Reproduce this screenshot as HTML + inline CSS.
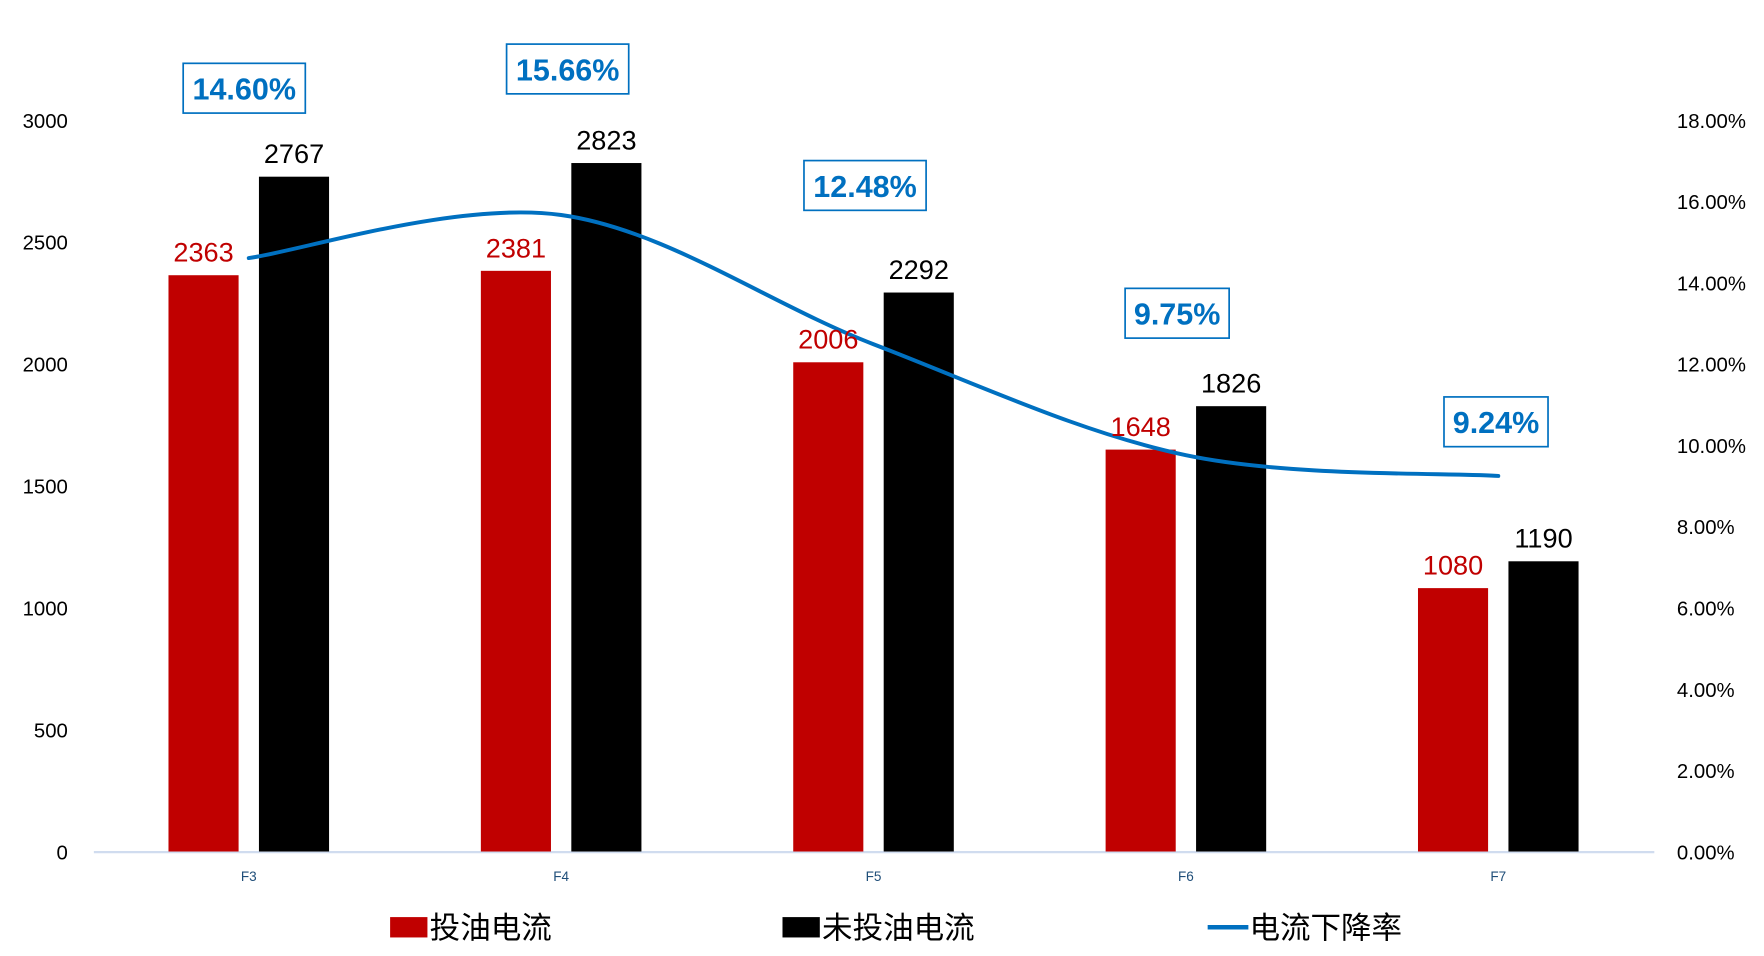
<!DOCTYPE html>
<html><head><meta charset="utf-8"><style>
html,body{margin:0;padding:0;background:#fff;}
svg{display:block;font-family:"Liberation Sans","Noto Sans CJK SC",sans-serif;}
</style></head><body>
<svg id="chart" width="1764" height="956" viewBox="0 0 1560 845.4" preserveAspectRatio="none" xmlns="http://www.w3.org/2000/svg">
<g id="axes"></g><g id="bars"></g><g id="line"></g><g id="labels"></g>
<g id="legend">
  <rect x="345" y="811" width="33" height="18" fill="#c00000"/>
  <text x="380" y="830" font-size="27" fill="#000">投油电流</text>
  <rect x="692" y="811" width="33" height="18" fill="#000"/>
  <text x="727" y="830" font-size="27" fill="#000">未投油电流</text>
  <line x1="1068" y1="820" x2="1104" y2="820" stroke="#0070c0" stroke-width="4"/>
  <text x="1105" y="830" font-size="27" fill="#000">电流下降率</text>
</g>
</svg>
<script>
const categories = ["F3","F4","F5","F6","F7"];
const oilValues = [2363,2381,2006,1648,1080];
const noOilValues = [2767,2823,2292,1826,1190];
const rateValues = [14.60,15.66,12.48,9.75,9.24];
const leftTicks = [0,500,1000,1500,2000,2500,3000];
const rightTicks = [0,2,4,6,8,10,12,14,16,18];

const NS="http://www.w3.org/2000/svg";
const Y0=753, Y1=106, X0=83, X1=1463;
const yL=v=>Y0-(v/3000)*(Y0-Y1);
const yR=v=>Y0-(v/18)*(Y0-Y1);
const xC=i=>220+i*276.25;
function mk(tag,attrs,parent,text){const e=document.createElementNS(NS,tag);for(const k in attrs)e.setAttribute(k,attrs[k]);if(text!==undefined)e.textContent=text;parent.appendChild(e);return e;}
const axes=document.getElementById('axes'),bars=document.getElementById('bars'),line=document.getElementById('line'),labels=document.getElementById('labels');

let e=mk('line',{x1:X0,y1:Y0+0.5,x2:X1,y2:Y0+0.5,stroke:'#d0dcef','stroke-width':2},axes);


leftTicks.forEach(t=>{
  const el=mk('text',{x:60,y:yL(t)+7,'font-size':18,'text-anchor':'end',fill:'#000'},axes,String(t));
  
  
});
rightTicks.forEach(t=>{
  const el=mk('text',{x:1483,y:yR(t)+7,'font-size':18,fill:'#000'},axes,t.toFixed(2)+'%');
  
  
});
categories.forEach((c,i)=>{
  const el=mk('text',{x:xC(i),y:779,'font-size':12,'text-anchor':'middle',fill:'#1f4e79'},axes,c);
  
  
});

categories.forEach((c,i)=>{
  const xr=xC(i)-71, xb=xC(i)+9;
  const r=mk('rect',{x:xr,y:yL(oilValues[i]),width:62,height:Y0-yL(oilValues[i]),fill:'#c00000'},bars);
  
  
  const b=mk('rect',{x:xb,y:yL(noOilValues[i]),width:62,height:Y0-yL(noOilValues[i]),fill:'#000'},bars);
  
  
  const lr=mk('text',{x:xr+31,y:yL(oilValues[i])-12,'font-size':24,'text-anchor':'middle',fill:'#c00000'},labels,String(oilValues[i]));
  
  
  const lb=mk('text',{x:xb+31,y:yL(noOilValues[i])-12,'font-size':24,'text-anchor':'middle',fill:'#000'},labels,String(noOilValues[i]));
  
  
});

// smooth line (Catmull-Rom)
const pts=rateValues.map((v,i)=>[xC(i),yR(v)]);
let d='M'+pts[0][0]+','+pts[0][1];
for(let i=0;i<pts.length-1;i++){
  const p0=pts[Math.max(0,i-1)],p1=pts[i],p2=pts[i+1],p3=pts[Math.min(pts.length-1,i+2)];
  const c1=[p1[0]+(p2[0]-p0[0])/6,p1[1]+(p2[1]-p0[1])/6];
  const c2=[p2[0]-(p3[0]-p1[0])/6,p2[1]-(p3[1]-p1[1])/6];
  d+=` C${c1[0]},${c1[1]} ${c2[0]},${c2[1]} ${p2[0]},${p2[1]}`;
}
const lp=mk('path',{d:d,fill:'none',stroke:'#0070c0','stroke-width':3.5,'stroke-linecap':'round'},line);



// callout boxes for rate values
const boxW=[108,108,108,92,92];
const boxY=[56,39,142,255,351];
rateValues.forEach((v,i)=>{
  const cx=[216,502,765,1041,1323][i];
  const g=mk('g',{},labels);
  
  
  mk('rect',{x:cx-boxW[i]/2,y:boxY[i],width:boxW[i],height:44,fill:'#fff',stroke:'#0070c0','stroke-width':1.5},g);
  mk('text',{x:cx,y:boxY[i]+32,'font-size':27,'font-weight':'bold','text-anchor':'middle',fill:'#0070c0'},g,v.toFixed(2)+'%');
});
</script>
</body></html>
